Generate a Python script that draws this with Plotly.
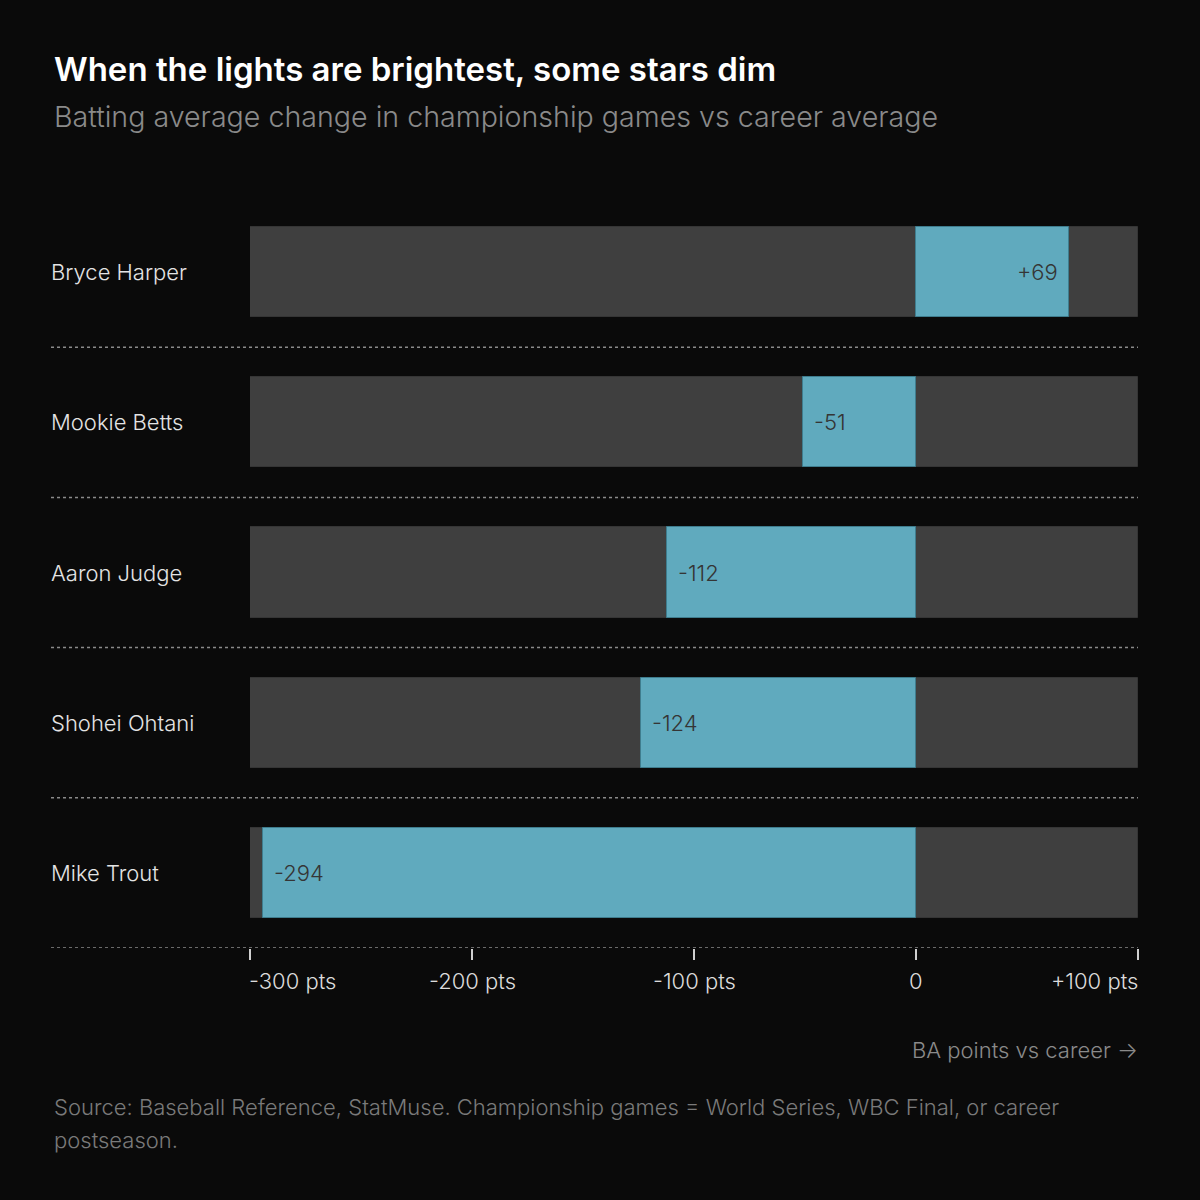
import plotly.graph_objects as go

players = ["Bryce Harper", "Mookie Betts", "Aaron Judge", "Shohei Ohtani", "Mike Trout"]
changes = [69, -51, -112, -124, -294]
labels = ["+69", "-51", "-112", "-124", "-294"]
track_min, track_max = -300, 100
tick_vals = [-300, -200, -100, 0, 100]
tick_text = ["-300 pts", "-200 pts", "-100 pts", "0", "+100 pts"]

BG = "#0a0a0a"
TRACK = "#3f3f3f"
BLUE = "#60aabe"
FONT = "Inter"

# plot area in pixels
L, R, T, B = 250, 1138, 197, 948
W, H = 1200, 1200


def px(x):
    return (x - L) / (R - L)


def py(y):
    return (B - y) / (B - T)


fig = go.Figure()
fig.add_trace(go.Bar(
    y=players, x=[track_max - track_min] * len(players), base=[track_min] * len(players),
    orientation="h", marker=dict(color=TRACK, line=dict(width=1, color="#353535")),
    width=0.6, hoverinfo="skip", showlegend=False,
))
fig.add_trace(go.Bar(
    y=players, x=changes, orientation="h",
    marker=dict(color=BLUE, line=dict(width=1, color="#3f7d8e")),
    width=0.6, showlegend=False,
))

ann = []
for p, v, t in zip(players, changes, labels):
    ann.append(dict(x=v, y=p, xref="x", yref="y", text=t, showarrow=False,
                    xanchor="right" if v > 0 else "left", xshift=-9 if v > 0 else 9,
                    font=dict(family=FONT, size=22, color="#353535", weight=300)))
    ann.append(dict(x=px(51), y=p, xref="paper", yref="y", text=p, showarrow=False,
                    xanchor="left", xshift=-2,
                    font=dict(family=FONT, size=22, color="#e4e4e4", weight=300)))

for i, (v, t) in enumerate(zip(tick_vals, tick_text)):
    if i == 0:
        anchor, shift = "left", -3
    elif i == len(tick_vals) - 1:
        anchor, shift = "right", 2
    else:
        anchor, shift = "center", 0
    ann.append(dict(x=v, y=py(981), xref="x", yref="paper", text=t, showarrow=False,
                    xanchor=anchor, yanchor="middle", xshift=shift,
                    font=dict(family=FONT, size=22, color="#dcdcdc", weight=300)))

ann += [
    dict(x=px(54), y=py(69), xref="paper", yref="paper", text="When the lights are brightest, some stars dim",
         showarrow=False, xanchor="left", yanchor="middle", xshift=-2,
         font=dict(family=FONT, size=33, color="#ffffff", weight=600)),
    dict(x=px(54), y=py(116), xref="paper", yref="paper",
         text="Batting average change in championship games vs career average",
         showarrow=False, xanchor="left", yanchor="middle", xshift=-2,
         font=dict(family=FONT, size=28.6, color="#8a8a8a", weight=300)),
    dict(x=1, y=py(1050), xref="paper", yref="paper", text="BA points vs career →",
         showarrow=False, xanchor="right", yanchor="middle", xshift=2,
         font=dict(family=FONT, size=22, color="#8a8a8a", weight=300)),
    dict(x=px(54), y=py(1107), xref="paper", yref="paper",
         text="Source: Baseball Reference, StatMuse. Championship games = World Series, WBC Final, or career",
         showarrow=False, xanchor="left", yanchor="middle", xshift=-2,
         font=dict(family=FONT, size=22, color="#7a7a7a", weight=300)),
    dict(x=px(54), y=py(1140), xref="paper", yref="paper", text="postseason.",
         showarrow=False, xanchor="left", yanchor="middle", xshift=-2,
         font=dict(family=FONT, size=22, color="#7a7a7a", weight=300)),
]

shapes = []
for k in range(len(players)):
    yv = k + 0.5
    shapes.append(dict(type="line", xref="paper", yref="y", x0=px(51), x1=1, y0=yv, y1=yv,
                       line=dict(color="#8a8a8a", width=1.5, dash="dot"), layer="above"))

fig.update_layout(
    width=W, height=H, paper_bgcolor=BG, plot_bgcolor=BG,
    margin=dict(l=L, r=W - R, t=T, b=H - B, pad=0),
    barmode="overlay", bargap=0, annotations=ann, shapes=shapes,
    xaxis=dict(range=[track_min, track_max], tickvals=tick_vals, showticklabels=False,
               ticks="outside", ticklen=11, tickwidth=2, tickcolor="#d0d0d0",
               showgrid=False, zeroline=False, showline=False, fixedrange=True),
    yaxis=dict(categoryorder="array", categoryarray=players, range=[len(players) - 0.5, -0.5],
               showticklabels=False, showgrid=False, zeroline=False, showline=False, fixedrange=True),
    font=dict(family=FONT),
)

fig.write_html("out.html", config={"displayModeBar": False},
               post_script="document.body.style.margin='0';document.body.style.background='#0a0a0a';")
